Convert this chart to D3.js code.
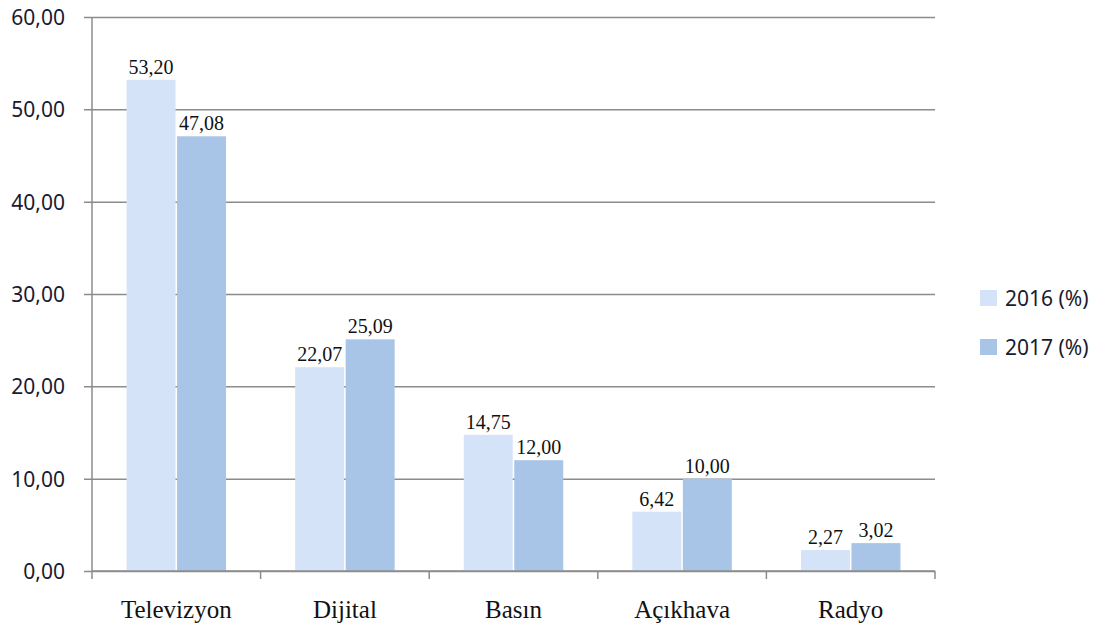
<!DOCTYPE html>
<html>
<head>
<meta charset="utf-8">
<script src="https://d3js.org/d3.v7.min.js"></script>
<style>
  html, body { margin: 0; padding: 0; background: #fff; overflow: hidden; }
  svg { display: block; }
</style>
</head>
<body>
<svg id="chart" width="1107" height="628"></svg>
<script>
const categories = ['Televizyon', 'Dijital', 'Basın', 'Açıkhava', 'Radyo'];
const seriesNames = ['2016 (%)', '2017 (%)'];
const values2016 = [53.20, 22.07, 14.75, 6.42, 2.27];
const values2017 = [47.08, 25.09, 12.00, 10.00, 3.02];
const yTicks = [0, 10, 20, 30, 40, 50, 60];
const colors = ['#d4e3f8', '#a8c5e8'];

const svg = d3.select('#chart');
const margin = { top: 17, right: 172, bottom: 57, left: 92 };
const width = 1107, height = 628;
const innerWidth = width - margin.left - margin.right;
const innerHeight = height - margin.top - margin.bottom;

const fmt = v => v.toFixed(2).replace('.', ',');

const g = svg.append('g')
  .attr('transform', `translate(${margin.left},${margin.top})`);

const x = d3.scaleBand()
  .domain(categories)
  .range([0, innerWidth])
  .paddingInner(0)
  .paddingOuter(0);

const x1 = d3.scaleBand()
  .domain([0, 1])
  .range([x.bandwidth() * 0.205, x.bandwidth() * 0.795])
  .paddingInner(0.03);

const y = d3.scaleLinear()
  .domain([0, 60])
  .range([innerHeight, 0]);

// gridlines + y axis
const yAxis = d3.axisLeft(y)
  .tickValues(yTicks)
  .tickSize(-innerWidth)
  .tickPadding(0)
  .tickFormat(fmt);

const yAxisG = g.append('g').call(yAxis)
  .attr('font-family', 'Noto Sans, sans-serif')
  .attr('font-size', 21);
yAxisG.select('.domain').remove();
yAxisG.selectAll('.tick line')
  .attr('x1', -8)
  .attr('stroke', '#8c8c8c')
  .attr('stroke-width', 1.5);
yAxisG.selectAll('.tick text')
  .attr('x', -27)
  .attr('dy', '0.36em')
  .attr('fill', '#1a1a2e');

g.append('line')
  .attr('x1', 0).attr('x2', 0)
  .attr('y1', 0).attr('y2', innerHeight)
  .attr('stroke', '#8c8c8c')
  .attr('stroke-width', 1.5);

// bars
const data = categories.map((c, i) => ({ cat: c, vals: [values2016[i], values2017[i]] }));

const groups = g.selectAll('.grp')
  .data(data)
  .enter().append('g')
  .attr('class', 'grp')
  .attr('transform', d => `translate(${x(d.cat)},0)`);

groups.selectAll('rect')
  .data(d => d.vals.map((v, k) => ({ v, k })))
  .enter().append('rect')
  .attr('x', d => x1(d.k))
  .attr('y', d => y(d.v))
  .attr('width', x1.bandwidth())
  .attr('height', d => innerHeight - y(d.v))
  .attr('fill', d => colors[d.k]);

groups.selectAll('.lbl')
  .data(d => d.vals.map((v, k) => ({ v, k })))
  .enter().append('text')
  .attr('class', 'lbl')
  .attr('x', d => x1(d.k) + x1.bandwidth() / 2)
  .attr('y', d => y(d.v) - 6)
  .attr('text-anchor', 'middle')
  .attr('fill', '#111')
  .style('font-family', 'Liberation Serif, serif')
  .style('font-size', '20px')
  .text(d => fmt(d.v));

// x axis
const xAxisG = g.append('g')
  .attr('transform', `translate(0,${innerHeight})`);

xAxisG.append('line')
  .attr('x1', 0).attr('x2', innerWidth)
  .attr('stroke', '#8c8c8c')
  .attr('stroke-width', 1.5);

xAxisG.selectAll('.xtick')
  .data(d3.range(categories.length + 1))
  .enter().append('line')
  .attr('x1', i => i * x.bandwidth())
  .attr('x2', i => i * x.bandwidth())
  .attr('y1', 0).attr('y2', 8)
  .attr('stroke', '#8c8c8c')
  .attr('stroke-width', 1.5);

xAxisG.selectAll('.xlbl')
  .data(categories)
  .enter().append('text')
  .attr('x', d => x(d) + x.bandwidth() / 2)
  .attr('y', 47)
  .attr('text-anchor', 'middle')
  .attr('fill', '#111')
  .style('font-family', 'Liberation Serif, serif')
  .style('font-size', '25px')
  .text(d => d);

// legend
const legend = svg.selectAll('.legend')
  .data(seriesNames)
  .enter().append('g')
  .attr('class', 'legend')
  .attr('transform', (d, i) => `translate(980,${290 + i * 49})`);

legend.append('rect')
  .attr('width', 17).attr('height', 16)
  .attr('fill', (d, i) => colors[i]);

legend.append('text')
  .attr('x', 25)
  .attr('y', 16)
  .attr('fill', '#1a1a2e')
  .attr('font-family', 'Noto Sans, sans-serif')
  .attr('font-size', 21)
  .text(d => d);
</script>
</body>
</html>
